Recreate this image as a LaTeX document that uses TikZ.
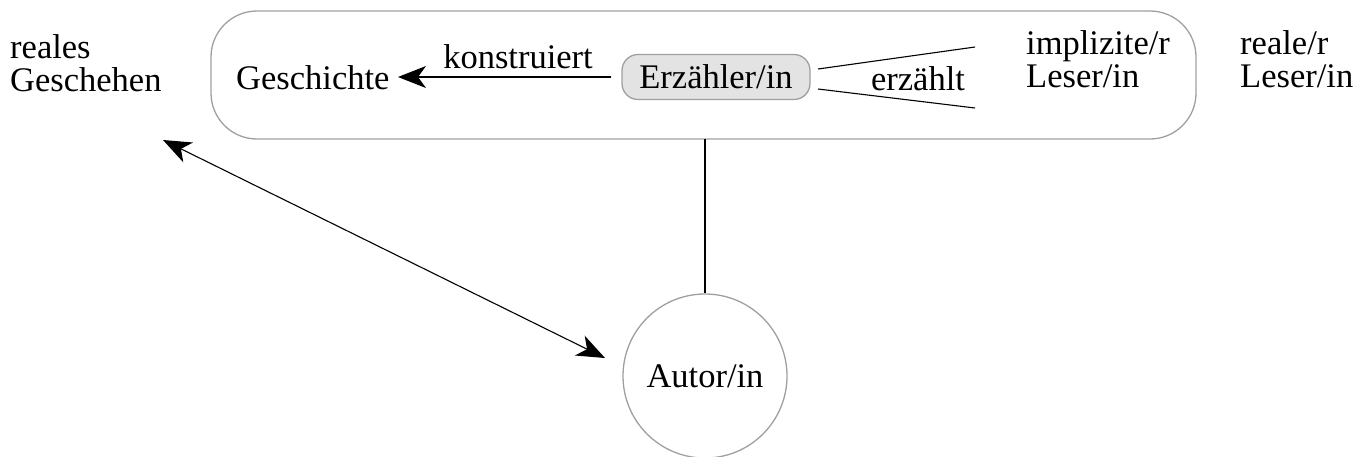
\documentclass[tikz,border=0pt]{standalone}
\usepackage{fontspec}
\setmainfont{Liberation Serif}
\usetikzlibrary{arrows.meta}
\begin{document}
\begin{tikzpicture}[x=1pt,y=-1pt,
  txt/.style={inner sep=0pt,font=\fontsize{34.5}{33}\selectfont,align=left},
  conn/.style={line width=1.1pt,black},
  endtip/.style={-{Stealth[length=28pt,width=22pt,inset=8pt,fill=black]}},
  bothtips/.style={{Stealth[length=28pt,width=22pt,inset=8pt,fill=black]}-{Stealth[length=28pt,width=22pt,inset=8pt,fill=black]}}]
\useasboundingbox (0,0) rectangle (1362,456);
\draw[gray!75,line width=1.3pt,rounded corners=46pt] (211,11) rectangle (1196,139);
\node[txt,anchor=west] (real) at (10,63) {reales\\Geschehen};
\node[txt,anchor=west] (gesch) at (236,78) {Geschichte};
\node[txt] (konst) at (518,57) {konstruiert};
\node[txt,draw=gray!75,fill=gray!22,line width=1.3pt,rounded corners=16pt,minimum width=188pt,minimum height=45pt] (erz) at (716,77) {Erzähler/in};
\node[txt] (erzt) at (918,79) {erzählt};
\node[txt,anchor=west] (impl) at (1026,59) {implizite/r\\Leser/in};
\node[txt,anchor=west] (rl) at (1240,59) {reale/r\\Leser/in};
\node[draw=gray!75,line width=1.3pt,circle,minimum size=164pt] (aut) at (705,376) {};
\node[txt] at (aut.center) (auttxt) {Autor/in};
\coordinate (u1) at (818,69);
\coordinate (u2) at (975,47);
\coordinate (l1) at (818,89);
\coordinate (l2) at (975,108);
\coordinate (boxb) at (705,139);
\coordinate (rg) at (163,140);
\coordinate (ga) at (398,77);
\coordinate (at) at (605,358);
\draw[conn,endtip] ([xshift=-10pt]erz.west) -- (ga);
\draw[conn] (u1) -- (u2);
\draw[conn] (l1) -- (l2);
\draw[conn] (boxb) -- (aut.north);
\draw[conn,bothtips] (rg) -- (at);
\end{tikzpicture}
\end{document}
